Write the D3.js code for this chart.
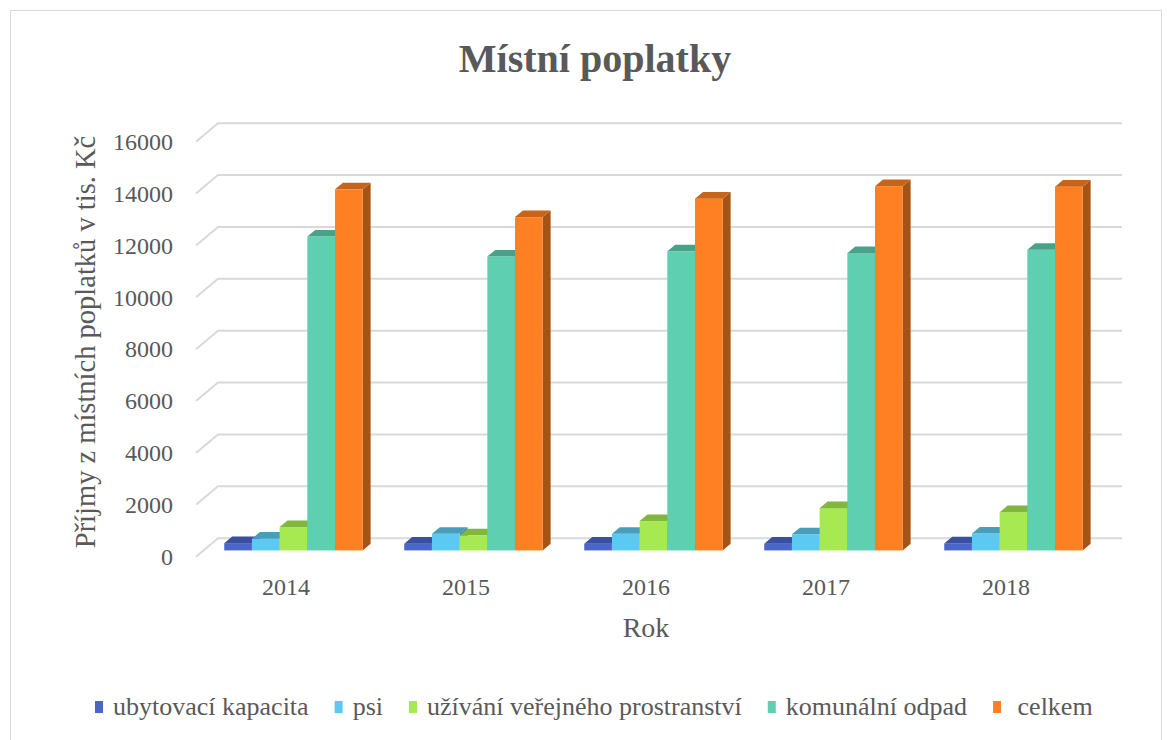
<!DOCTYPE html>
<html>
<head>
<meta charset="utf-8">
<script src="https://cdn.jsdelivr.net/npm/d3@7"></script>
<style>
  html, body { margin: 0; padding: 0; background: #fff; }
  svg { display: block; }
  text { font-family: "Liberation Serif", "Times New Roman", serif; fill: #595959; }
</style>
</head>
<body>
<svg id="chart" width="1167" height="740"></svg>
<script>
// ---- data ----
const years = ["2014", "2015", "2016", "2017", "2018"];
const seriesNames = ["ubytovací kapacita", "psi", "užívání veřejného prostranství", "komunální odpad", "celkem"];
const ubytovaciKapacita = [280, 260, 260, 260, 270];
const psi = [450, 640, 640, 620, 650];
const uzivaniProstranstvi = [900, 580, 1130, 1630, 1470];
const komunalniOdpad = [12100, 11330, 11530, 11460, 11590];
const celkem = [13920, 12850, 13560, 14040, 14020];
const yTicks = [0, 2000, 4000, 6000, 8000, 10000, 12000, 14000, 16000];
const seriesColors = ["#4a66c9", "#5bc9f1", "#a6e951", "#5ecfb0", "#ff8022"];

const seriesValues = [ubytovaciKapacita, psi, uzivaniProstranstvi, komunalniOdpad, celkem];

// ---- layout ----
const svg = d3.select("#chart");

// chart border
svg.append("rect").attr("x", 10.5).attr("y", 10.5).attr("width", 1151).attr("height", 740)
  .attr("fill", "none").attr("stroke", "#d9d9d9").attr("stroke-width", 1);

const x = d3.scaleBand().domain(years).range([196, 1096]).paddingInner(0).paddingOuter(0);
const xs = d3.scaleBand().domain(seriesNames).range([0, x.bandwidth()]).paddingInner(0).paddingOuter(0.75);
const y = d3.scaleLinear().domain([0, 16000]).range([556.7, 141.7]);
const DX = 22, DY = -18.5;     // full depth projection
const F0 = 0.34, F1 = 0.70;    // bar depth (front / back fraction)

// gridlines: side wall diagonal + back wall horizontal
const grid = svg.append("g");
grid.selectAll("path").data(yTicks).join("path")
  .attr("d", v => `M${x.range()[0]},${y(v)} L${x.range()[0] + DX},${y(v) + DY} L${x.range()[1] + DX + 4},${y(v) + DY}`)
  .attr("fill", "none").attr("stroke", "#d9d9d9").attr("stroke-width", 2);

// bars
const bars = svg.append("g");
years.forEach((yr, i) => {
  seriesNames.forEach((nm, j) => {
    const v = seriesValues[j][i];
    const c = d3.color(seriesColors[j]);
    const xl = x(yr) + xs(nm) + F0 * DX;
    const xr = xl + xs.bandwidth();
    const yb = y(0) + F0 * DY;
    const yt = y(v) + F0 * DY;
    const ddx = (F1 - F0) * DX, ddy = (F1 - F0) * DY;
    const g = bars.append("g");
    g.append("polygon")
      .attr("points", [[xr, yt], [xr + ddx, yt + ddy], [xr + ddx, yb + ddy], [xr, yb]].join(" "))
      .attr("fill", c.darker(1.2));
    g.append("rect").attr("x", xl).attr("y", yt).attr("width", xr - xl).attr("height", yb - yt)
      .attr("fill", c);
    g.append("polygon")
      .attr("points", [[xl, yt], [xl + ddx, yt + ddy], [xr + ddx, yt + ddy], [xr, yt]].join(" "))
      .attr("fill", c.darker(0.7));
  });
});

// y axis
const yAxis = svg.append("g").attr("transform", `translate(${x.range()[0]},0)`)
  .call(d3.axisLeft(y).tickValues(yTicks).tickFormat(d3.format("d")).tickSize(0).tickPadding(23));
yAxis.select(".domain").remove();
yAxis.selectAll("text").style("font-size", "24px").attr("fill", "#595959")
  .style("font-family", '"Liberation Serif", serif');

// x axis
const xAxis = svg.append("g").attr("transform", `translate(0,${y(0)})`)
  .call(d3.axisBottom(x).tickSize(0).tickPadding(21));
xAxis.select(".domain").remove();
xAxis.selectAll("text").style("font-size", "24px").attr("fill", "#595959")
  .style("font-family", '"Liberation Serif", serif');

// title
svg.append("text").attr("x", 595).attr("y", 72).attr("text-anchor", "middle")
  .style("font-size", "40px").style("font-weight", "bold").text("Místní poplatky");

// axis titles
svg.append("text").attr("transform", "translate(95,342) rotate(-90)").attr("text-anchor", "middle")
  .style("font-size", "28.5px").text("Příjmy z místních poplatků v tis. Kč");
svg.append("text").attr("x", 646).attr("y", 637).attr("text-anchor", "middle")
  .style("font-size", "28px").text("Rok");

// legend
const legend = svg.append("g");
let cx = 95;
seriesNames.forEach((nm, j) => {
  const it = legend.append("g");
  it.append("rect").attr("x", cx).attr("y", 701).attr("width", 8).attr("height", 12).attr("fill", seriesColors[j]);
  const t = it.append("text").attr("x", cx + 18).attr("y", 715).style("font-size", "26px")
    .style("white-space", "pre").text(j === 4 ? " " + nm : nm);
  cx = cx + 18 + t.node().getComputedTextLength() + 26;
});
</script>
</body>
</html>
